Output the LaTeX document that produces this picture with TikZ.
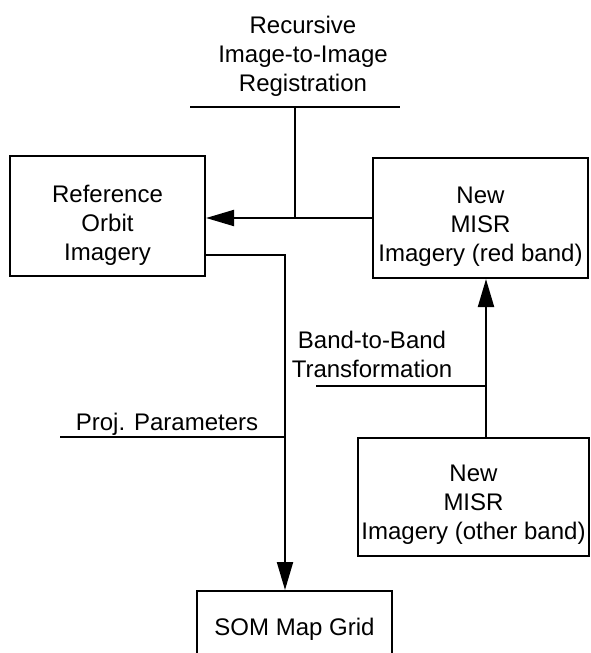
\documentclass[tikz,border=0pt]{standalone}
\usepackage{fontspec}
\setmainfont{Liberation Sans}
\usetikzlibrary{arrows.meta}
\begin{document}
\begin{tikzpicture}[x=1pt,y=-1pt,
  box/.style={draw,line width=2.1pt,inner sep=0pt},
  lbl/.style={align=center,inner sep=0pt},
  conn/.style={line width=2.1pt},
  arr/.style={conn,-{Triangle[length=28pt,width=16pt]}},
  font=\fontsize{24}{29}\selectfont]
\useasboundingbox (0,0) rectangle (590,653);
\node[box,minimum width=195pt,minimum height=120pt] (ref) at (107.5,216) {};
\node[lbl] (reft) at ([yshift=-9pt]ref.center) {Reference\\Orbit\\Imagery};
\node[box,minimum width=215pt,minimum height=120pt] (red) at (480.5,218) {};
\node[lbl] (redt) at ([yshift=-9pt]red.center) {New\\MISR\\Imagery (red band)};
\node[box,minimum width=231pt,minimum height=118pt] (other) at (473.5,497) {};
\node[lbl] (othert) at ([yshift=-8pt]other.center) {New\\MISR\\Imagery (other band)};
\begin{scope}
\clip (0,0) rectangle (590,653);
\node[box,minimum width=195pt,minimum height=76pt,anchor=north] (som) at (294.5,590) {SOM Map Grid};
\end{scope}
% top label
\node[lbl] (reglbl) at (303,56) {Recursive\\Image-to-Image\\Registration};
\coordinate (regL) at (190,107);
\coordinate (regR) at (400,107);
\coordinate (regJ) at (295,107);
\draw[conn] (regL) -- (regR);
\draw[conn] (regJ) -- (regJ |- red.west);
\draw[arr] (red.west) -- (red.west -| ref.east);
% reference to SOM
\coordinate (bend) at (285,255);
\draw[arr] (ref.east |- bend) -- (bend) -- (bend |- som.north);
% projection parameters
\node[lbl,anchor=base] (proj) at (167,430) {Proj. Parameters};
\coordinate (projL) at (60,437);
\draw[conn] (projL) -- (projL -| bend);
% band-to-band
\node[lbl] (b2b) at (372,354) {Band-to-Band\\Transformation};
\coordinate (upx) at (486,0);
\coordinate (b2bL) at (316,386);
\draw[conn] (b2bL) -- (b2bL -| upx);
\draw[arr] (other.north -| upx) -- (red.south -| upx);
\end{tikzpicture}
\end{document}
